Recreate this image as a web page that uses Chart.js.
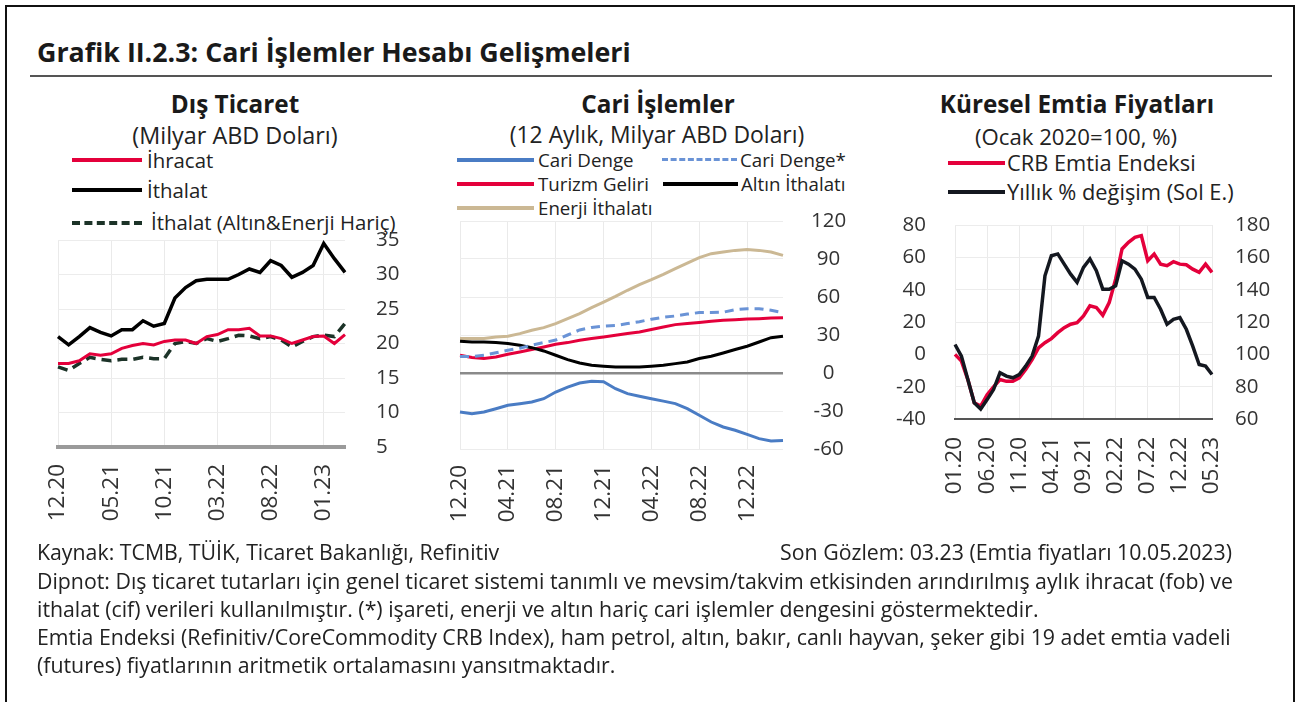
<!DOCTYPE html>
<html lang="tr">
<head>
<meta charset="utf-8">
<title>Grafik II.2.3</title>
<script src="https://cdn.jsdelivr.net/npm/chart.js@4.4.0/dist/chart.umd.min.js"></script>
<style>
  body { margin: 0; background: #fff; font-family: 'Open Sans', sans-serif; color: #1a1a1a; }
  #page { position: relative; width: 1303px; height: 702px; overflow: hidden; background: #fff; }
  #frame { position: absolute; left: 5px; top: 5px; width: 1286px; height: 720px; border: 2px solid #111; }
  .t { position: absolute; white-space: nowrap; }
  .title { left: 37px; top: 35px; font-size: 26.8px; font-weight: 700; line-height: 34px; }
  #rule { position: absolute; left: 30px; top: 75px; width: 1242px; height: 0; border-top: 2px solid #555; }
  .ctitle { font-size: 24.3px; font-weight: 700; line-height: 30px; top: 89px; transform: translateX(-50%); }
  .csub { line-height: 28px; transform: translateX(-50%); color: #222; }
  .leg { color: #222; }
  .l1 { font-size: 20.4px; line-height: 24px; }
  .l2 { font-size: 18.7px; line-height: 22px; }
  .l3 { font-size: 21.8px; line-height: 26px; }
  .sw { position: absolute; height: 0; }
  .foot { left: 37px; font-size: 21.3px; line-height: 28px; color: #222; }
  canvas { position: absolute; }
</style>
</head>
<body>
<div id="page">
  <div id="frame"></div>
  <div class="t title">Grafik II.2.3: Cari İşlemler Hesabı Gelişmeleri</div>
  <div id="rule"></div>

  <!-- Dış Ticaret -->
  <div class="t ctitle" style="left:235px;">Dış Ticaret</div>
  <div class="t csub" style="left:235px;top:121px;font-size:23.4px;">(Milyar ABD Doları)</div>
  <div class="sw" style="left:72px;top:158px;width:70px;border-top:4px solid #e4003b;"></div>
  <div class="t leg l1" style="left:147px;top:148px;">İhracat</div>
  <div class="sw" style="left:72px;top:188px;width:70px;border-top:4px solid #000;"></div>
  <div class="t leg l1" style="left:147px;top:178px;">İthalat</div>
  <div class="sw" style="left:72px;top:221px;width:70px;border-top:4px dashed #1c3328;"></div>
  <div class="t leg l1" style="left:151px;top:210px;">İthalat (Altın&amp;Enerji Hariç)</div>
  <canvas id="c1" width="360" height="310" style="left:40px;top:230px;width:360px;height:310px;"></canvas>

  <!-- Cari İşlemler -->
  <div class="t ctitle" style="left:658px;">Cari İşlemler</div>
  <div class="t csub" style="left:657px;top:121px;font-size:22.9px;">(12 Aylık, Milyar ABD Doları)</div>
  <div class="sw" style="left:457px;top:158px;width:77px;border-top:4px solid #4a7cc4;"></div>
  <div class="t leg l2" style="left:538px;top:149px;">Cari Denge</div>
  <div class="sw" style="left:662px;top:158px;width:75px;border-top:3px dashed #6a93d6;"></div>
  <div class="t leg l2" style="left:740px;top:149px;">Cari Denge*</div>
  <div class="sw" style="left:457px;top:182px;width:77px;border-top:4px solid #e4003b;"></div>
  <div class="t leg l2" style="left:538px;top:173px;">Turizm Geliri</div>
  <div class="sw" style="left:663px;top:182px;width:75px;border-top:4px solid #000;"></div>
  <div class="t leg l2" style="left:741px;top:173px;">Altın İthalatı</div>
  <div class="sw" style="left:457px;top:206px;width:77px;border-top:4px solid #cbb894;"></div>
  <div class="t leg l2" style="left:538px;top:197px;">Enerji İthalatı</div>
  <canvas id="c2" width="420" height="330" style="left:445px;top:210px;width:420px;height:330px;"></canvas>

  <!-- Küresel Emtia Fiyatları -->
  <div class="t ctitle" style="left:1077px;">Küresel Emtia Fiyatları</div>
  <div class="t csub" style="left:1076px;top:123px;font-size:22.2px;">(Ocak 2020=100, %)</div>
  <div class="sw" style="left:948px;top:161px;width:57px;border-top:4px solid #e4003b;"></div>
  <div class="t leg l3" style="left:1007px;top:150px;">CRB Emtia Endeksi</div>
  <div class="sw" style="left:948px;top:190px;width:57px;border-top:4px solid #141820;"></div>
  <div class="t leg l3" style="left:1007px;top:179px;">Yıllık % değişim (Sol E.)</div>
  <canvas id="c3" width="390" height="300" style="left:895px;top:205px;width:390px;height:300px;"></canvas>

  <!-- Dipnot -->
  <div class="t foot" style="top:538px;">Kaynak: TCMB, TÜİK, Ticaret Bakanlığı, Refinitiv</div>
  <div class="t foot" style="top:538px;left:auto;right:71px;">Son Gözlem: 03.23 (Emtia fiyatları 10.05.2023)</div>
  <div class="t foot" style="top:567px;">Dipnot: Dış ticaret tutarları için genel ticaret sistemi tanımlı ve mevsim/takvim etkisinden arındırılmış aylık ihracat (fob) ve</div>
  <div class="t foot" style="top:595px;">ithalat (cif) verileri kullanılmıştır. (*) işareti, enerji ve altın hariç cari işlemler dengesini göstermektedir.</div>
  <div class="t foot" style="top:623px;">Emtia Endeksi (Refinitiv/CoreCommodity CRB Index), ham petrol, altın, bakır, canlı hayvan, şeker gibi 19 adet emtia vadeli</div>
  <div class="t foot" style="top:651px;">(futures) fiyatlarının aritmetik ortalamasını yansıtmaktadır.</div>
</div>

<script>
// --- Dış Ticaret (milyar ABD doları, aylık) ---
const disMonths = ['12.20','01.21','02.21','03.21','04.21','05.21','06.21','07.21','08.21','09.21','10.21','11.21',
  '12.21','01.22','02.22','03.22','04.22','05.22','06.22','07.22','08.22','09.22','10.22','11.22','12.22','01.23','02.23','03.23'];
const disTicks = ['12.20','05.21','10.21','03.22','08.22','01.23'];
const ihracat = [17.1,17.1,17.5,18.5,18.3,18.5,19.3,19.7,20.0,19.8,20.3,20.5,20.5,20.0,21.0,21.3,22.0,22.0,22.2,21.1,21.1,20.7,20.0,20.5,21.0,21.1,20.0,21.3];
const ithalat = [21.0,19.8,21.0,22.3,21.6,21.1,22.0,22.0,23.3,22.5,22.9,26.6,28.1,29.1,29.3,29.3,29.3,30.0,30.8,30.3,32.0,31.3,29.6,30.3,31.3,34.5,32.3,30.3];
const ithalatHaric = [16.6,16.1,17.1,18.0,17.7,17.5,17.7,17.7,18.0,17.8,17.8,20.0,20.3,20.0,20.7,20.3,20.7,21.2,21.1,20.7,21.0,20.5,19.5,20.3,21.0,21.2,21.0,22.9];

// --- Cari İşlemler (12 aylık, milyar ABD doları) ---
const cariMonths = disMonths;
const cariTicks = ['12.20','04.21','08.21','12.21','04.22','08.22','12.22'];
const cariDenge = [-30.8,-32.1,-30.8,-28.2,-25.5,-24.2,-22.9,-20.3,-15.0,-11.1,-7.9,-6.6,-6.9,-12.4,-16.3,-18.4,-20.3,-22.2,-24.2,-28.2,-33.4,-38.7,-42.6,-45.2,-48.4,-51.8,-53.7,-53.3];
const cariDengeHaric = [13,13,14,16,18,19.5,22,24,26,30,34,36,37,37.5,39,40.5,42.5,44,45,46.5,47.7,47.7,48,50,50.8,50.8,49.5,47.7];
const turizmGeliri = [14.0,12.2,11.4,12.6,14.8,16.6,18.5,20.5,22.7,24.0,25.8,27.2,28.4,29.8,31.1,32.4,34.3,36.3,38.2,39.0,39.8,40.8,41.6,42.1,42.6,42.9,43.4,43.7];
const altinIthalati = [25.0,24.5,24.5,24.0,23.2,21.9,20.0,17.4,14.0,10.6,7.9,6.1,5.3,4.7,4.7,4.7,5.3,6.1,7.4,8.7,11.4,13.2,15.8,18.5,21.1,24.5,27.9,29.0];
const enerjiIthalati = [27.2,27.2,27.2,28.4,29.0,31.1,33.7,35.8,39.0,42.9,46.9,51.6,56.0,60.5,65.3,69.8,73.7,77.9,82.4,86.8,91.1,94.2,95.5,96.8,97.4,96.8,95.5,92.9];

// --- Küresel Emtia Fiyatları ---
const emtiaMonths = ['01.20','02.20','03.20','04.20','05.20','06.20','07.20','08.20','09.20','10.20','11.20','12.20',
  '01.21','02.21','03.21','04.21','05.21','06.21','07.21','08.21','09.21','10.21','11.21','12.21',
  '01.22','02.22','03.22','04.22','05.22','06.22','07.22','08.22','09.22','10.22','11.22','12.22',
  '01.23','02.23','03.23','04.23','05.23'];
const emtiaTicks = ['01.20','06.20','11.20','04.21','09.21','02.22','07.22','12.22','05.23'];
const crbEndeks = [100,95.8,84.4,70,68,75,79.8,84.4,83.3,83.3,85.5,90.6,96.8,104,107.2,109.7,113.4,116.5,118.6,119.6,123.7,
  130,129,124.2,132,146.5,165.2,169.3,172.4,173.4,157.9,162,155.8,154.8,157.3,155.8,155.4,152.7,150.7,155.8,150.7];
const yillikDegisim = [6.1,-1.1,-15.6,-30,-33.8,-28,-21.8,-11.4,-13.5,-14.5,-12.5,-7.3,-1.1,11.3,48.6,61,62.1,55.8,49.6,44.5,53.8,
  59,51.7,40.3,40.3,42.4,57.9,55.8,52.7,46.5,35.2,35.2,27.9,18.6,21.7,22.7,15.5,5.1,-6.3,-7.3,-12.5];

Chart.defaults.font.family = "'Open Sans', sans-serif";
Chart.defaults.color = '#333';
Chart.defaults.animation = false;
Chart.defaults.plugins.legend.display = false;
Chart.defaults.plugins.tooltip.enabled = false;
Chart.defaults.elements.point.radius = 0;
Chart.defaults.elements.line.tension = 0;

const yFont = { size: 20.5 };
const xFont = { size: 22.5 };
const faint = '#ececec';

function pickTicks(labels, shown) {
  return (val, i) => shown.includes(labels[i]) ? labels[i] : null;
}

// fixed axis box sizes; the tick padding must not push the plot area in
function fixX(h) {
  return s => { s.height = h; s.paddingLeft = 0; s.paddingRight = 0; };
}
function fixY(w) {
  return s => { s.width = w; s.paddingTop = 0; s.paddingBottom = 0; };
}

new Chart(document.getElementById('c1'), {
  type: 'line',
  data: {
    labels: disMonths,
    datasets: [
      { label: 'İthalat', data: ithalat, borderColor: '#000', borderWidth: 3.5 },
      { label: 'İhracat', data: ihracat, borderColor: '#e4003b', borderWidth: 3 },
      { label: 'İthalat (Altın&Enerji Hariç)', data: ithalatHaric, borderColor: '#1c3328', borderWidth: 3.5, borderDash: [10, 6] }
    ]
  },
  options: {
    responsive: false,
    layout: { autoPadding: false, padding: { left: 18, top: 10, right: 0, bottom: 0 } },
    scales: {
      x: {
        offset: false,
        grid: { color: '#eaeaea', drawTicks: false },
        border: { display: true, color: '#9a9a9a', width: 4 },
        ticks: { autoSkip: false, maxRotation: 90, minRotation: 90, padding: 17, font: xFont, callback: pickTicks(disMonths, disTicks) },
        afterFit: fixX(93)
      },
      y: {
        position: 'right', min: 5, max: 35,
        grid: { color: faint, drawTicks: false },
        border: { display: false },
        ticks: { stepSize: 5, padding: 31, font: yFont },
        afterFit: fixY(55)
      }
    }
  }
});

new Chart(document.getElementById('c2'), {
  type: 'line',
  data: {
    labels: cariMonths,
    datasets: [
      { label: 'Cari Denge', data: cariDenge, borderColor: '#4a7cc4', borderWidth: 3 },
      { label: 'Cari Denge*', data: cariDengeHaric, borderColor: '#6a93d6', borderWidth: 3, borderDash: [9, 6] },
      { label: 'Altın İthalatı', data: altinIthalati, borderColor: '#000', borderWidth: 3 },
      { label: 'Turizm Geliri', data: turizmGeliri, borderColor: '#e4003b', borderWidth: 3 },
      { label: 'Enerji İthalatı', data: enerjiIthalati, borderColor: '#cbb894', borderWidth: 3 }
    ]
  },
  options: {
    responsive: false,
    layout: { autoPadding: false, padding: { left: 15, top: 11, right: 0, bottom: 0 } },
    scales: {
      x: {
        offset: false,
        grid: { color: '#eaeaea', drawTicks: false },
        border: { display: false },
        ticks: { autoSkip: false, maxRotation: 90, minRotation: 90, padding: 16, font: xFont, callback: pickTicks(cariMonths, cariTicks) },
        afterFit: fixX(91)
      },
      y: {
        position: 'right', min: -60, max: 120,
        grid: {
          drawTicks: false,
          color: c => c.tick.value === 0 ? '#8a8a8a' : faint,
          lineWidth: c => c.tick.value === 0 ? 2.5 : 1
        },
        border: { display: false },
        ticks: { stepSize: 30, padding: 28, crossAlign: 'center', font: yFont },
        afterFit: fixY(82)
      }
    }
  }
});

new Chart(document.getElementById('c3'), {
  type: 'line',
  data: {
    labels: emtiaMonths,
    datasets: [
      { label: 'Yıllık % değişim (Sol E.)', data: yillikDegisim, borderColor: '#141820', borderWidth: 3.5, yAxisID: 'y' },
      { label: 'CRB Emtia Endeksi', data: crbEndeks, borderColor: '#e4003b', borderWidth: 3.5, yAxisID: 'y1' }
    ]
  },
  options: {
    responsive: false,
    layout: { autoPadding: false, padding: { left: 0, top: 20, right: 0, bottom: 0 } },
    scales: {
      x: {
        offset: false,
        grid: { color: '#eaeaea', drawTicks: false },
        border: { display: true, color: '#555', width: 2 },
        ticks: { autoSkip: false, maxRotation: 90, minRotation: 90, padding: 18, font: xFont, callback: pickTicks(emtiaMonths, emtiaTicks) },
        afterFit: fixX(86)
      },
      y: {
        position: 'left', min: -40, max: 80,
        grid: { color: faint, drawTicks: false },
        border: { display: false },
        ticks: { stepSize: 20, padding: 29, font: yFont },
        afterFit: fixY(60)
      },
      y1: {
        position: 'right', min: 60, max: 180,
        grid: { display: false, drawTicks: false },
        border: { display: false },
        ticks: { stepSize: 20, padding: 23, font: yFont },
        afterFit: fixY(73)
      }
    }
  }
});
</script>
</body>
</html>
